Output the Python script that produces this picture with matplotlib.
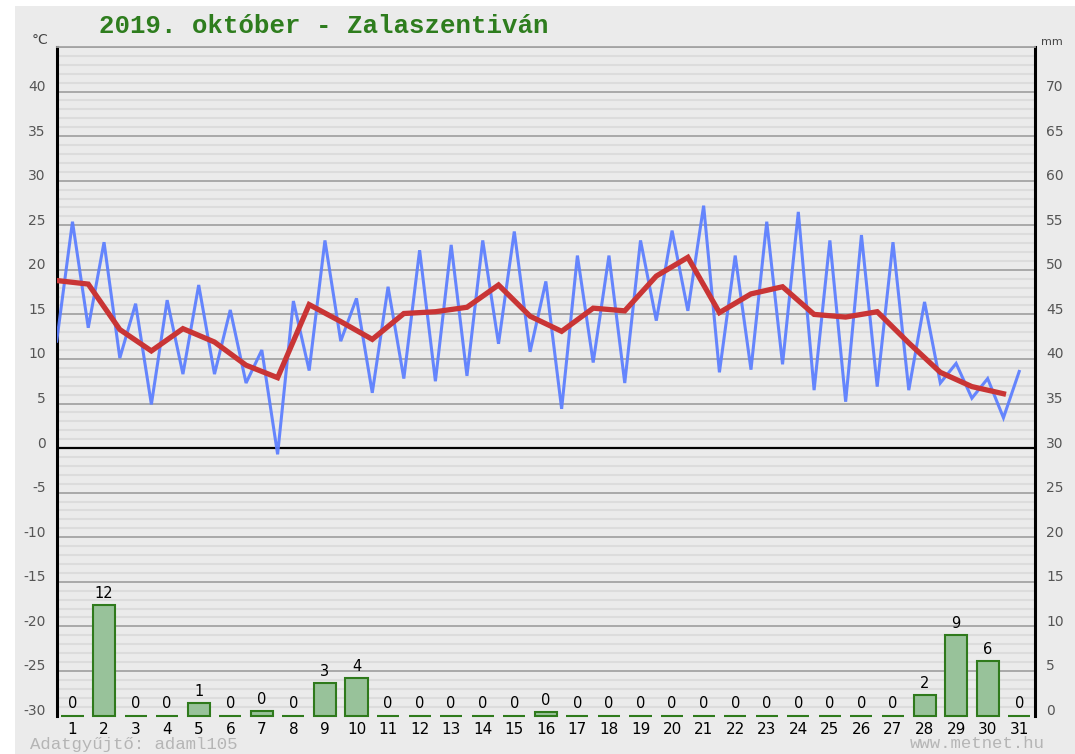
import numpy as np
import matplotlib
matplotlib.use("Agg")
import matplotlib.pyplot as plt
from matplotlib.transforms import ScaledTranslation
from matplotlib.patches import Rectangle

# ---------------- data ----------------
days = list(range(1, 32))
temp_mean = [18.8, 18.4, 13.3, 10.9, 13.4, 11.9, 9.3, 7.9, 16.1, 14.2, 12.2,
             15.1, 15.3, 15.8, 18.3, 14.8, 13.1, 15.7, 15.4, 19.3, 21.4, 15.2,
             17.3, 18.1, 15.0, 14.7, 15.3, 11.8, 8.5, 6.9, 6.1]
# alternating min / max readings, two per day
temp_minmax = [12.0, 25.4, 13.5, 23.1, 10.1, 16.2, 4.9, 16.6, 8.3, 18.3,
               8.3, 15.5, 7.3, 11.0, -0.7, 16.5, 8.7, 23.3, 12.0, 16.8,
               6.2, 18.1, 7.8, 22.2, 7.5, 22.8, 8.1, 23.3, 11.7, 24.3,
               10.8, 18.7, 4.4, 21.6, 9.6, 21.6, 7.3, 23.3, 14.3, 24.4,
               15.4, 27.2, 8.5, 21.6, 8.8, 25.4, 9.4, 26.5, 6.5, 23.3,
               5.2, 23.9, 6.9, 23.1, 6.5, 16.4, 7.3, 9.5, 5.6, 7.8,
               3.4, 8.6]
precip = [0, 12.4, 0, 0, 1.4, 0, 0.5, 0, 3.6, 4.2, 0, 0, 0, 0, 0, 0.4,
          0, 0, 0, 0, 0, 0, 0, 0, 0, 0, 0, 2.3, 9.0, 6.1, 0]
temp_ticks = list(range(-30, 41, 5))
mm_ticks = list(range(0, 71, 5))
title = "2019. október - Zalaszentiván"
footer_left = "Adatgyűjtő: adaml105"
footer_right = "www.metnet.hu"

# ---------------- figure ----------------
W, H = 1075, 754
fig = plt.figure(figsize=(W / 100, H / 100), dpi=100, facecolor="white")
bg = "#ebebeb"
fig.patches.append(Rectangle((15 / W, 0), 1 - 15 / W, 1 - 6 / H,
                             transform=fig.transFigure, facecolor=bg,
                             edgecolor="none", zorder=-10))

left, right = 56.7 / W, 1035 / W
top, bottom = 1 - 47 / H, 1 - 715.5 / H
ax = fig.add_axes([left, bottom, right - left, top - bottom])
ax.set_facecolor(bg)
ax.set_xlim(0.5, 31.5)
ax.set_ylim(-30, 45)

# grid
ax.set_yticks(temp_ticks)
for v in np.arange(-29, 45, 1):
    if v % 5 != 0:
        ax.axhline(v, color="#dcdcdc", lw=1.5, zorder=0)
for v in range(-25, 46, 5):
    ax.axhline(v, color="#a3a3a3", lw=1.3, zorder=0.5)
ax.axhline(0, color="black", lw=1.6, zorder=1)

# lines
x_mm = 0.5 + 0.5 * np.arange(len(temp_minmax))
ax.plot(x_mm, temp_minmax, color="#5a7dff", lw=2.2, zorder=3,
        solid_joinstyle="miter", alpha=0.92)
x_mean = np.array(days) - 0.5
ax.plot(x_mean, temp_mean, color="#c93535", lw=3.8, zorder=4,
        solid_joinstyle="miter")

# spines
for s in ["left", "right"]:
    ax.spines[s].set_color("black")
    ax.spines[s].set_linewidth(2.2)
ax.spines["top"].set_color("#a3a3a3")
ax.spines["top"].set_linewidth(1.3)
ax.spines["bottom"].set_visible(False)

ax.tick_params(axis="y", which="both", length=0, labelsize=10,
               labelcolor="#555555", pad=8)
ax.set_yticklabels([str(t) for t in temp_ticks])
ax.set_xticks(days)
ax.set_xticklabels([str(d) for d in days])
ax.tick_params(axis="x", length=0, labelsize=11, labelcolor="black", pad=5)
for lbl in ax.get_yticklabels():
    lbl.set_transform(lbl.get_transform() +
                      ScaledTranslation(0, 6 / 100, fig.dpi_scale_trans))

# precipitation axis
ax2 = ax.twinx()
ax2.set_ylim(0, 75)
ax2.set_yticks(mm_ticks)
ax2.set_yticklabels([str(t) for t in mm_ticks])
ax2.tick_params(axis="y", length=0, labelsize=10, labelcolor="#555555", pad=8)
for lbl in ax2.get_yticklabels():
    lbl.set_transform(lbl.get_transform() +
                      ScaledTranslation(0, 6 / 100, fig.dpi_scale_trans))
for s in ax2.spines.values():
    s.set_visible(False)
ax2.patch.set_visible(False)

bars = ax2.bar(days, precip, width=0.7, color="#98c29a", edgecolor="#2f7a1c",
               linewidth=1.5, zorder=2)
for b in bars:
    b.set_clip_on(False)
for d, v in zip(days, precip):
    ax2.annotate(str(int(v)), (d, v), xytext=(0, 3), textcoords="offset points",
                 ha="center", va="bottom", fontsize=10.5, color="black")

# texts
fig.text(99 / W, 1 - 26 / H, title, family="Liberation Mono", weight="bold",
         fontsize=18.5, color="#2e7d1e", ha="left", va="center")
fig.text(40 / W, 1 - 40 / H, "°C", fontsize=10, color="#444444",
         ha="center", va="center")
fig.text(1052 / W, 1 - 42 / H, "mm", fontsize=8, color="#444444",
         ha="center", va="center")
fig.text(30 / W, 1 - 744 / H, footer_left, family="Liberation Mono",
         fontsize=12.5, color="#b5b5b5", ha="left", va="center")
fig.text(1045 / W, 1 - 744 / H, footer_right, family="Liberation Mono",
         fontsize=12.5, color="#b5b5b5", ha="right", va="center")

fig.savefig("out.png", dpi=100, facecolor="white")
